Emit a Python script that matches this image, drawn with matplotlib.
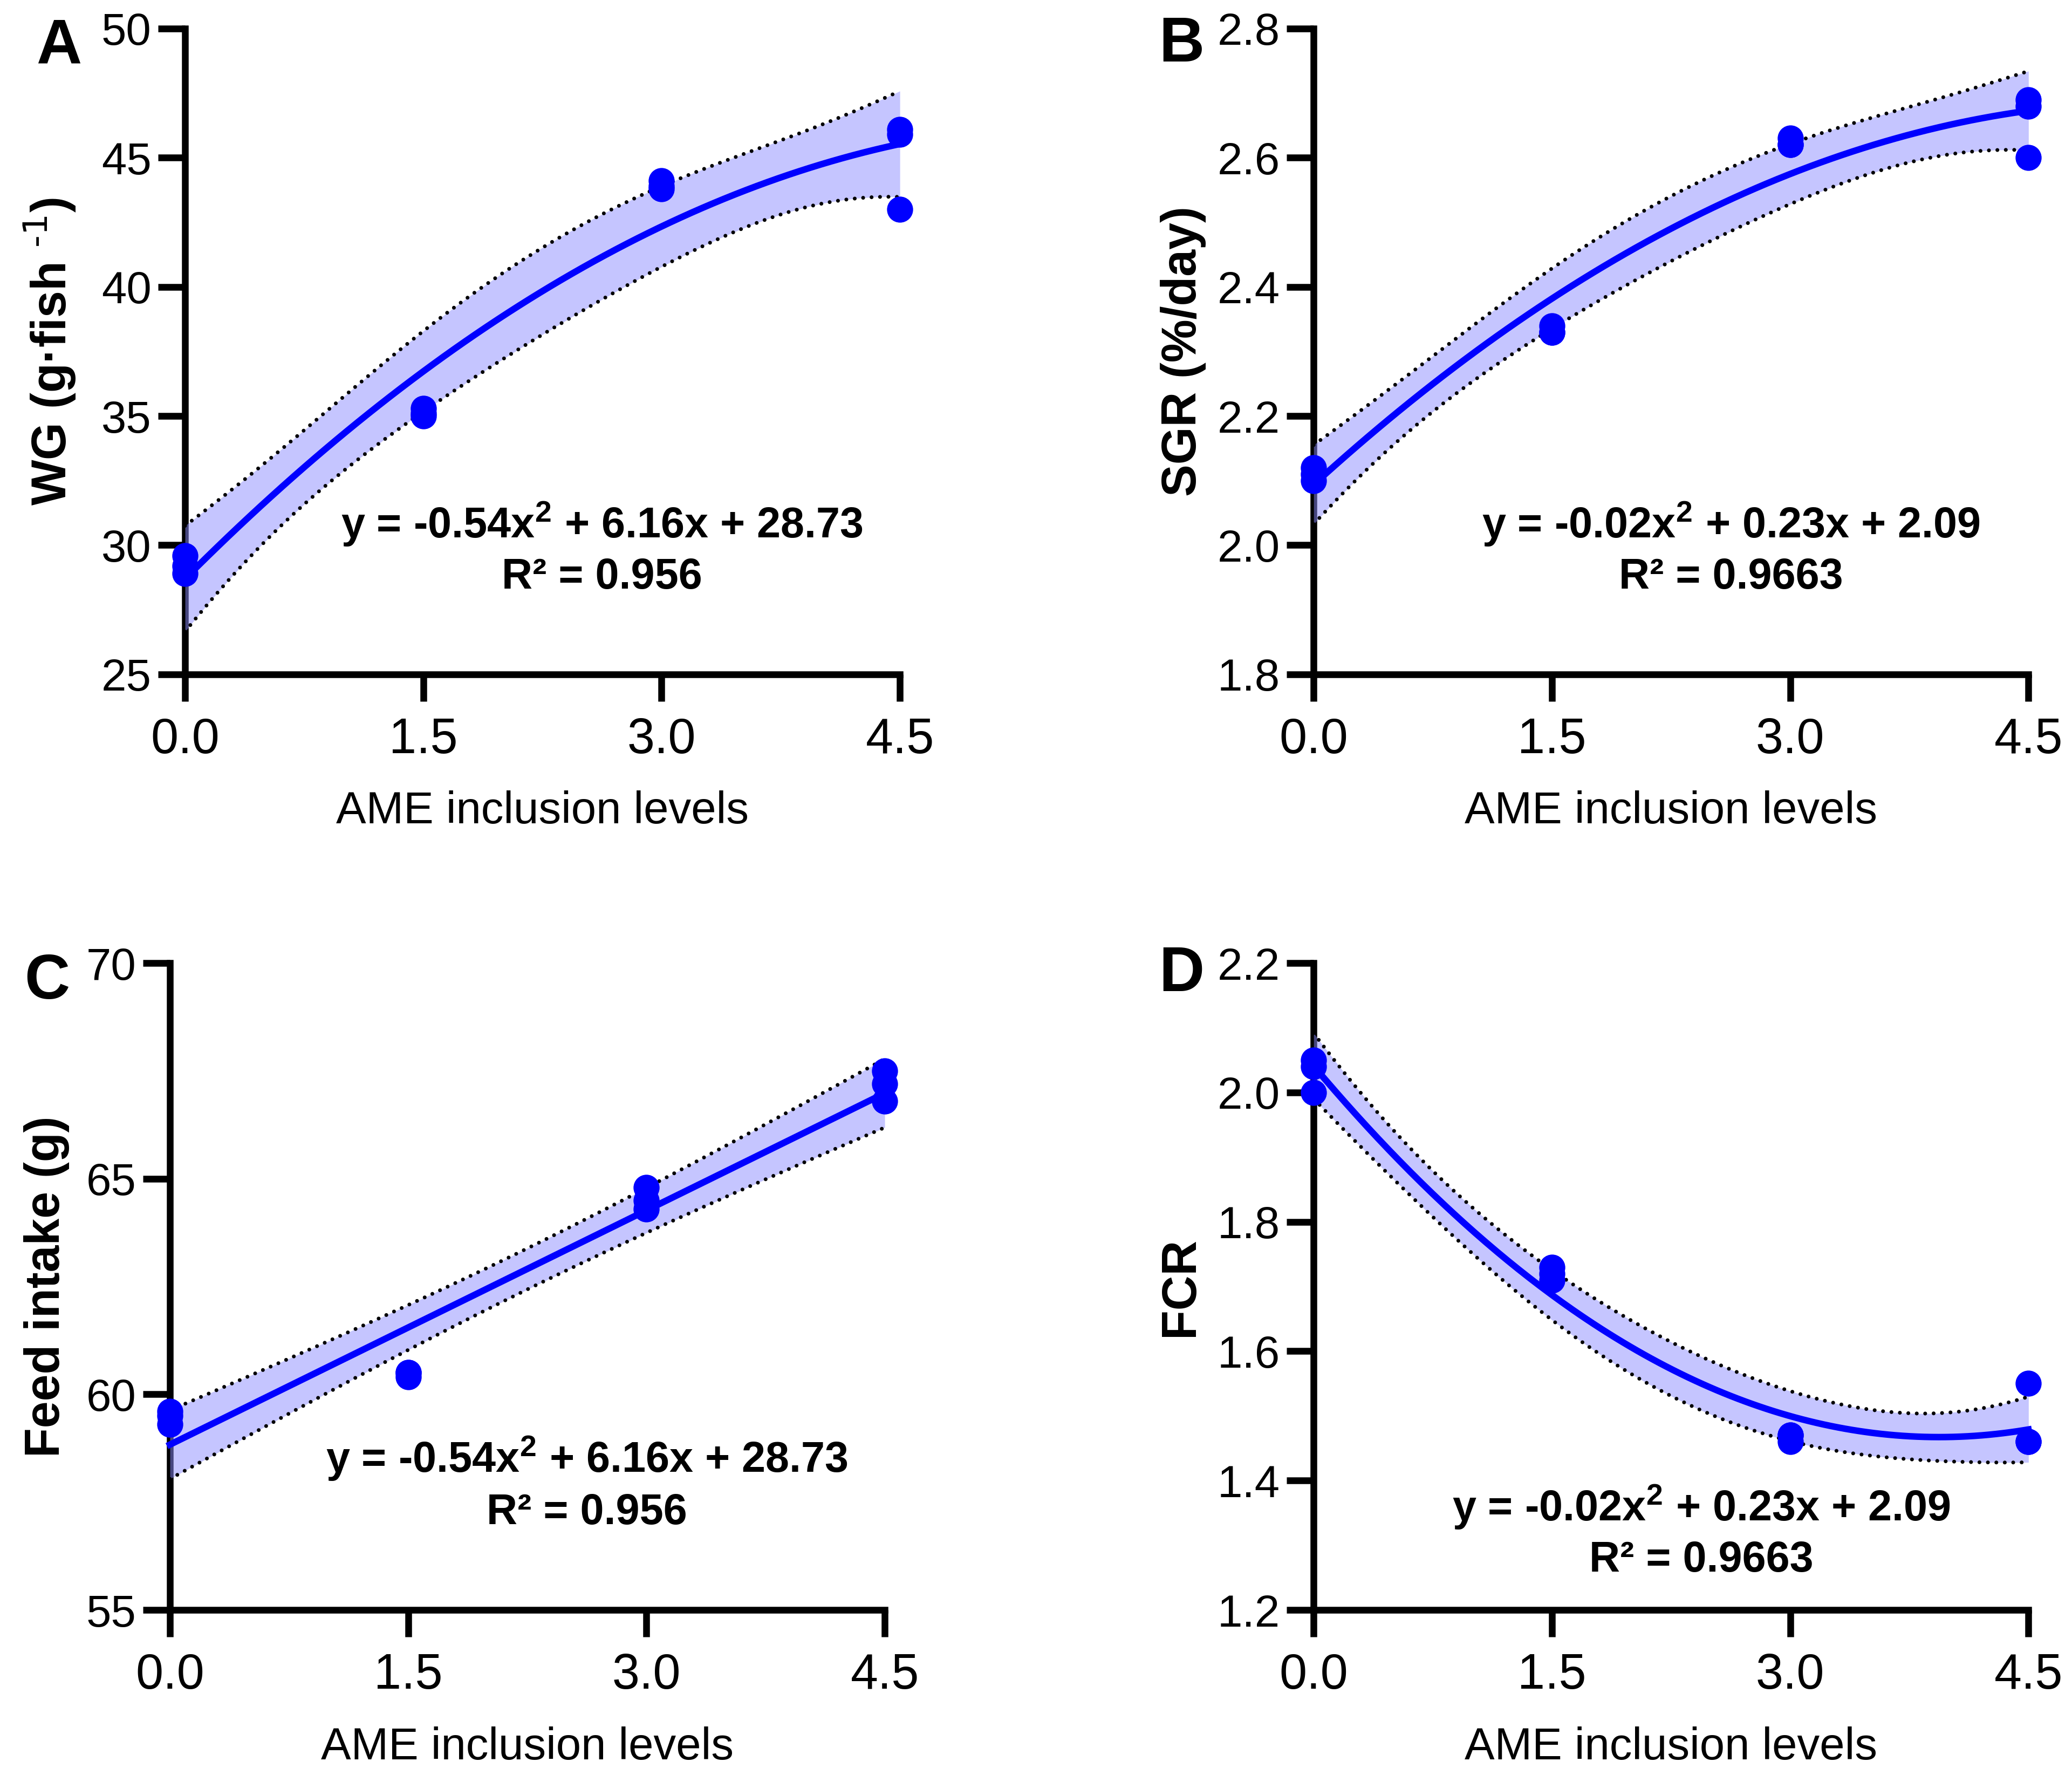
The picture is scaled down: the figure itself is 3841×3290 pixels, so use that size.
import numpy as np
import matplotlib
matplotlib.use("Agg")
import matplotlib.pyplot as plt

plt.rcParams['font.family'] = ['Liberation Sans', 'DejaVu Sans']
plt.rcParams['mathtext.default'] = 'regular'

# Niveles de inclusion de AME (3 replicas por nivel)
niveles = [0.0, 1.5, 3.0, 4.5]
replicas = 3

# Datos (una lista por nivel)
wg = [[29.6, 29.2, 28.9], [35.3, 35.0, 35.1], [44.1, 43.8, 43.9], [46.1, 45.9, 43.0]]
sgr = [[2.12, 2.11, 2.10], [2.34, 2.33, 2.33], [2.63, 2.62, 2.62], [2.69, 2.68, 2.60]]
feed = [[59.5, 59.6, 59.3], [60.5, 60.4, 60.5], [64.8, 64.5, 64.3], [67.5, 67.2, 66.8]]
fcr = [[2.05, 2.04, 2.00], [1.73, 1.72, 1.71], [1.47, 1.47, 1.46], [1.55, 1.46, 1.46]]

# Textos de cada panel
letras = ['A', 'B', 'C', 'D']
etiquetas_y = ['WG (g·fish $^{\\text{-1}}$)', 'SGR (%/day)', 'Feed intake (g)', 'FCR']
ecuaciones = ['y = -0.54x$^2$ + 6.16x + 28.73', 'y = -0.02x$^2$ + 0.23x + 2.09',
              'y = -0.54x$^2$ + 6.16x + 28.73', 'y = -0.02x$^2$ + 0.23x + 2.09']
r2_textos = ['R² = 0.956', 'R² = 0.9663', 'R² = 0.956', 'R² = 0.9663']
grados = [2, 2, 1, 2]
ticks_y = [[25, 30, 35, 40, 45, 50], [1.8, 2.0, 2.2, 2.4, 2.6, 2.8],
           [55, 60, 65, 70], [1.2, 1.4, 1.6, 1.8, 2.0, 2.2]]
formato_y = ['{:.0f}', '{:.1f}', '{:.0f}', '{:.1f}']
ticks_x = [0.0, 1.5, 3.0, 4.5]

# Valor t de Student (95%, dos colas) segun grados de libertad
t_crit = {8: 2.306, 9: 2.262, 10: 2.228}

# Posiciones de los ejes y de los textos (fraccion de figura / ejes)
pos_ejes = [[0.0893, 0.6201, 0.3450, 0.3638], [0.6340, 0.6201, 0.3450, 0.3638],
            [0.0820, 0.0930, 0.3450, 0.3644], [0.6340, 0.0930, 0.3450, 0.3644]]
pos_letra = [(0.0174, 0.9900), (0.5592, 0.9912), (0.0117, 0.4632), (0.5592, 0.4675)]
pos_ylabel = [-0.150, -0.150, -0.140, -0.154]
pos_ecuacion = [(0.583, 0.211, 0.133), (0.584, 0.211, 0.133),
                (0.583, 0.213, 0.133), (0.542, 0.138, 0.059)]

azul = '#0000ff'
banda = (0.55, 0.55, 1.0)


def ajuste(x, y, grado, xs):
    # Regresion polinomica y error estandar del valor ajustado
    X = np.vander(x, grado + 1)
    coef = np.linalg.lstsq(X, y, rcond=None)[0]
    gl = len(y) - (grado + 1)
    s2 = np.sum((y - X @ coef) ** 2) / gl
    cov = s2 * np.linalg.inv(X.T @ X)
    Xs = np.vander(xs, grado + 1)
    se = np.sqrt(np.einsum('ij,jk,ik->i', Xs, cov, Xs))
    return Xs @ coef, se, gl


fig = plt.figure(figsize=(3841 / 300, 3290 / 300), dpi=300)

datos = [wg, sgr, feed, fcr]
for i, valores in enumerate(datos):
    ax = fig.add_axes(pos_ejes[i])
    x = np.repeat(niveles, replicas)
    y = np.array(valores, dtype=float).ravel()

    xs = np.linspace(niveles[0], niveles[-1], 200)
    fit, se, gl = ajuste(x, y, grados[i], xs)
    ic = t_crit[gl] * se

    # Banda de confianza 95% con bordes punteados
    ax.fill_between(xs, fit - ic, fit + ic, color=banda, alpha=0.5, lw=0,
                    zorder=3, clip_on=False)
    for borde in (fit - ic, fit + ic):
        ax.plot(xs, borde, color='black', lw=1.7, ls=(0, (0.01, 2.2)),
                dash_capstyle='round', zorder=3.5, clip_on=False)

    # Curva ajustada y puntos
    ax.plot(xs, fit, color=azul, lw=2.9, zorder=4, clip_on=False)
    ax.plot(x, y, 'o', color=azul, ms=11.6, mew=0, zorder=5, clip_on=False)

    # Ejes
    ax.set_xlim(niveles[0], niveles[-1])
    ax.set_ylim(ticks_y[i][0], ticks_y[i][-1])
    for lado in ['top', 'right']:
        ax.spines[lado].set_visible(False)
    for lado in ['left', 'bottom']:
        ax.spines[lado].set_linewidth(3)
    ax.set_xticks(ticks_x)
    ax.set_xticklabels(['{:.1f}'.format(v) for v in ticks_x])
    ax.set_yticks(ticks_y[i])
    ax.set_yticklabels([formato_y[i].format(v) for v in ticks_y[i]])
    ax.tick_params(axis='both', direction='out', length=12, width=3)
    ax.tick_params(axis='x', labelsize=22, pad=7)
    ax.tick_params(axis='y', labelsize=20, pad=3)

    ax.set_xlabel('AME inclusion levels', fontsize=20)
    ax.xaxis.set_label_coords(0.5, -0.18)
    ax.set_ylabel(etiquetas_y[i], fontsize=21.5, fontweight='bold')
    ax.yaxis.set_label_coords(pos_ylabel[i], 0.5)

    # Ecuacion y R2
    ex, ey1, ey2 = pos_ecuacion[i]
    ax.text(ex, ey1, ecuaciones[i], transform=ax.transAxes, ha='center',
            va='baseline', fontsize=19, fontweight='bold')
    ax.text(ex, ey2, r2_textos[i], transform=ax.transAxes, ha='center',
            va='baseline', fontsize=19, fontweight='bold')

    # Letra del panel
    fig.text(pos_letra[i][0], pos_letra[i][1], letras[i], ha='left', va='top',
             fontsize=28, fontweight='bold')

fig.savefig('out.png', dpi=300)
